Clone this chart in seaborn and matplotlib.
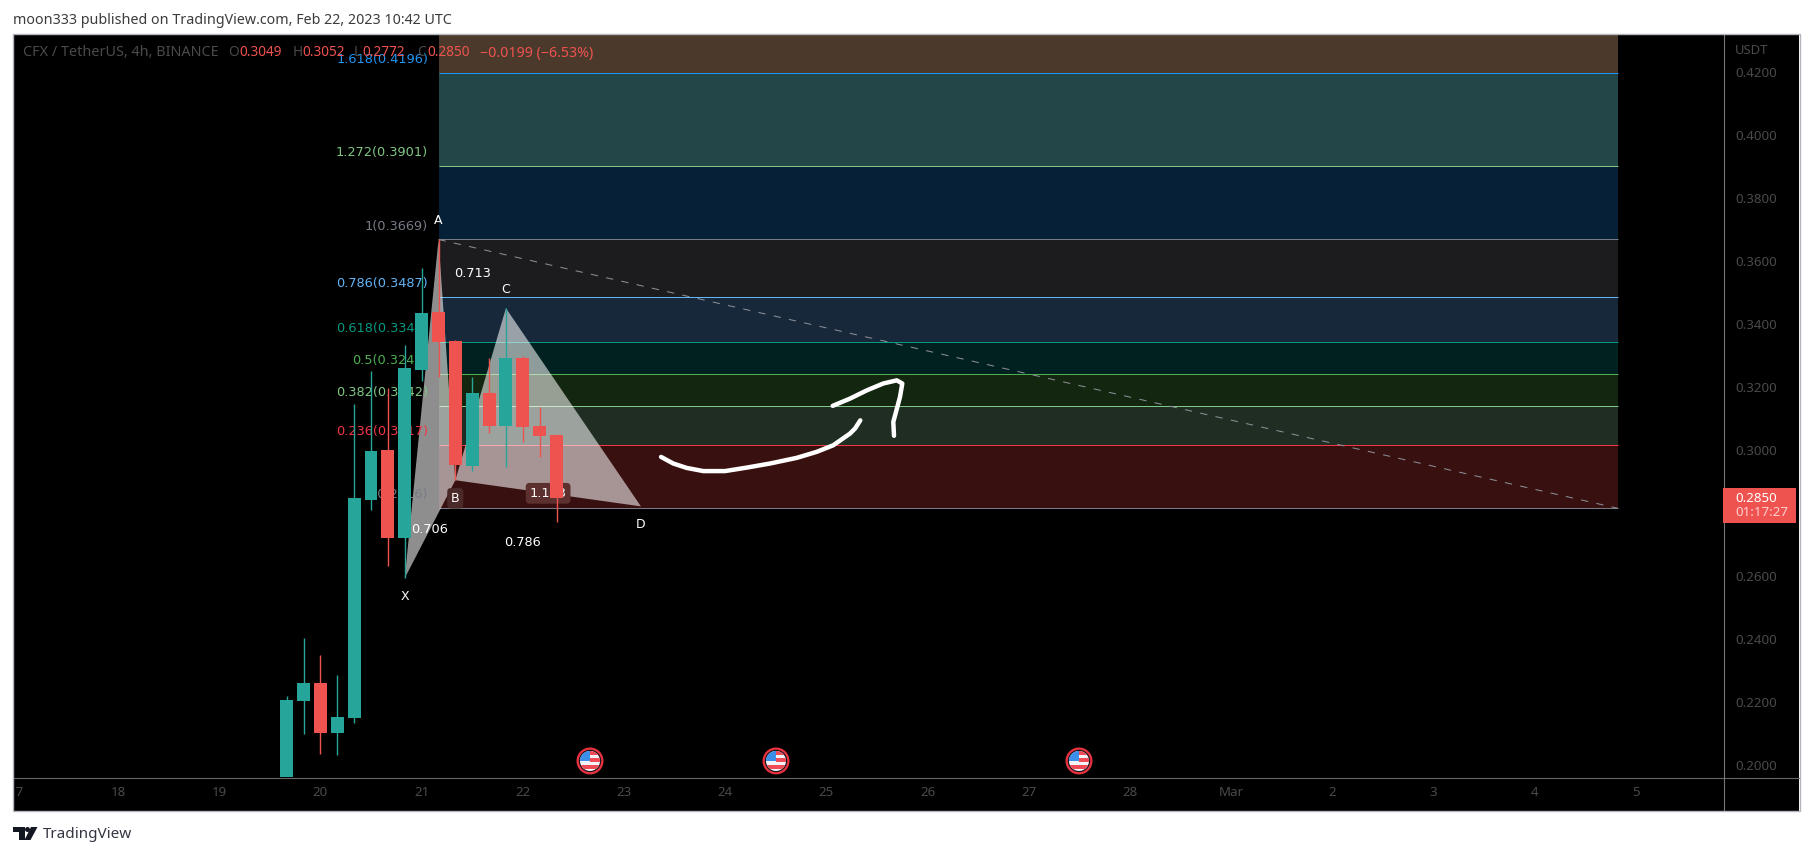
import numpy as np
import pandas as pd
import matplotlib
matplotlib.use("Agg")
import matplotlib.pyplot as plt
from matplotlib.patches import Rectangle, Circle, Polygon
from matplotlib.lines import Line2D
from matplotlib.transforms import IdentityTransform
import seaborn as sns

# ---------- data ----------
candle_days = [19.667, 19.833, 20.0, 20.167, 20.333, 20.5, 20.667, 20.833, 21.0,
               21.167, 21.333, 21.5, 21.667, 21.833, 22.0, 22.167, 22.333]
opens  = [0.1900, 0.2204, 0.2261, 0.2103, 0.2151, 0.2842, 0.3000, 0.2721, 0.3254,
          0.3438, 0.3346, 0.2950, 0.3181, 0.3076, 0.3292, 0.3076, 0.3049]
highs  = [0.2220, 0.2404, 0.2350, 0.2287, 0.3146, 0.3251, 0.3197, 0.3333, 0.3578,
          0.3669, 0.3349, 0.3232, 0.3292, 0.3451, 0.3298, 0.3137, 0.3052]
lows   = [0.1900, 0.2100, 0.2036, 0.2033, 0.2135, 0.2810, 0.2632, 0.2594, 0.3219,
          0.3232, 0.2905, 0.2934, 0.3054, 0.2946, 0.3026, 0.2978, 0.2772]
closes = [0.2207, 0.2261, 0.2103, 0.2153, 0.2848, 0.2997, 0.2721, 0.3260, 0.3435,
          0.3343, 0.2953, 0.3181, 0.3076, 0.3292, 0.3073, 0.3044, 0.2850]

fib_ratios = ["1.618", "1.272", "1", "0.786", "0.618", "0.5", "0.382", "0.236", "0"]
fib_prices = [0.4196, 0.3901, 0.3669, 0.3487, 0.3343, 0.3243, 0.3142, 0.3017, 0.2816]
fib_start, fib_end = 21.167, 32.82

pattern_names = ["X", "A", "B", "C", "D"]
pattern_days = [20.833, 21.167, 21.333, 21.833, 23.167]
pattern_prices = [0.2594, 0.3669, 0.2905, 0.3451, 0.2822]

stroke1_days = [23.366, 23.487, 23.620, 23.784, 23.998, 24.212, 24.443, 24.707, 24.904,
                25.068, 25.233, 25.283, 25.335]
stroke1_prices = [0.2979, 0.2958, 0.2944, 0.2934, 0.2934, 0.2945, 0.2958, 0.2976, 0.2995,
                  0.3016, 0.3053, 0.3069, 0.3095]
stroke2_days = [25.062, 25.233, 25.398, 25.562, 25.695, 25.750, 25.727, 25.688, 25.661, 25.668]
stroke2_prices = [0.3141, 0.3164, 0.3190, 0.3212, 0.3222, 0.3212, 0.3169, 0.3122, 0.3090, 0.3046]

event_days = [22.664, 24.502, 27.496]
event_price = 0.2014

day_ticks = [17, 18, 19, 20, 21, 22, 23, 24, 25, 26, 27, 28, 29, 30, 31, 32, 33]
day_labels = ["17", "18", "19", "20", "21", "22", "23", "24", "25", "26", "27", "28",
              "Mar", "2", "3", "4", "5"]
price_ticks = [0.20, 0.22, 0.24, 0.26, 0.30, 0.32, 0.34, 0.36, 0.38, 0.40, 0.42]

# ---------- style ----------
UP, DOWN = "#26a69a", "#ef5350"
FADED = "#4a4a4a"
UI_FONT = "Noto Sans"
band_colors = ["#4b3a2b", "#234748", "#062137", "#1c1c1e", "#17283a",
               "#002120", "#13260f", "#1f2d22", "#38100f"]
line_colors = ["#2196f3", "#81c784", "#787b86", "#64b5f6", "#089981",
               "#4caf50", "#81c784", "#f23645", "#787b86"]
W, H = 1813, 856

sns.set_theme(style="dark", rc={"axes.facecolor": "black", "figure.facecolor": "white"})
plt.rcParams["font.family"] = ["DejaVu Sans"]

fig = plt.figure(figsize=(W / 100, H / 100), dpi=100)
L, R, T, B = 14, 1723, 34.5, 777
ax = fig.add_axes([L / W, 1 - B / H, (R - L) / W, (B - T) / H])


def px_rect(x0, y0, x1, y1, **kw):
    r = Rectangle((x0 / W, 1 - y1 / H), (x1 - x0) / W, (y1 - y0) / H,
                  transform=fig.transFigure, **kw)
    fig.add_artist(r)
    return r


def px_text(x, y, s, **kw):
    kw.setdefault("va", "center")
    kw.setdefault("family", UI_FONT)
    return fig.text(x / W, 1 - y / H, s, **kw)


px_rect(13, 34, 1799, 811, facecolor="black", edgecolor="none", zorder=-5)

xlim = (16.972, 33.860)
ylim = (0.19631, 0.43196)

# Fibonacci bands and lines
tops = [ylim[1]] + fib_prices[:-1]
for top, bot, col in zip(tops, fib_prices, band_colors):
    ax.fill_between([fib_start, fib_end], bot, top, color=col, lw=0, zorder=1, antialiased=False)
for lc, price in zip(line_colors, fib_prices):
    ax.plot([fib_start, fib_end], [price, price], color=lc, lw=0.72, zorder=1.2,
            solid_capstyle="butt")

# Harmonic pattern triangles
xy = list(zip(pattern_days, pattern_prices))
for tri in (xy[:3], xy[2:5]):
    ax.add_patch(Polygon(tri, closed=True, facecolor="white", alpha=0.56, lw=0, zorder=2))

# Trend line
sns.lineplot(x=[fib_start, fib_end], y=[fib_prices[2], fib_prices[-1]], ax=ax, color="#8b8d96",
             lw=0.75, linestyle=(0, (7, 8)), estimator=None, sort=False, errorbar=None, zorder=2.2)

# Fib labels
for ratio, price, col in zip(fib_ratios, fib_prices, line_colors):
    ax.annotate(f"{ratio}({price:.4f})", (fib_start, price), xytext=(-7.5, 9.7),
                textcoords="offset points", ha="right", va="center", color=col,
                fontsize=9.3, zorder=2.4, annotation_clip=False)

# Point labels
name_off = {"X": -13.5, "A": 13.5, "B": -13, "C": 13.5, "D": -13}
pts = dict(zip(pattern_names, xy))
for n in pattern_names:
    kw = {}
    if n == "B":
        kw["bbox"] = dict(boxstyle="round,pad=0.3,rounding_size=0.3", fc="#4a2a28", ec="none")
    ax.annotate(n, pts[n], xytext=(0, name_off[n]), textcoords="offset points", ha="center",
                va="center", color="white", fontsize=9, zorder=2.5, **kw)

# Ratio labels sit at the middle of the leg they describe
for a, b, s in (("A", "C", "0.713"), ("X", "B", "0.706"), ("X", "D", "0.786"), ("B", "D", "1.113")):
    mid = ((pts[a][0] + pts[b][0]) / 2, (pts[a][1] + pts[b][1]) / 2)
    kw = {}
    if s == "1.113":
        kw["bbox"] = dict(boxstyle="round,pad=0.3,rounding_size=0.3", fc="#5c302e", ec="none")
    ax.annotate(s, mid, ha="center", va="center", color="white", fontsize=9.3,
                fontweight="medium", zorder=2.6, **kw)

# Candles
df = pd.DataFrame({"day": candle_days, "open": opens, "high": highs, "low": lows, "close": closes})
df["bottom"] = df[["open", "close"]].min(axis=1)
df["height"] = (df["close"] - df["open"]).abs()
df["up"] = df["close"] >= df["open"]
for is_up, col in ((True, UP), (False, DOWN)):
    sub = df[df["up"] == is_up]
    ax.vlines(sub["day"], sub["low"], sub["high"], color=col, lw=1.0, zorder=3)
    sns.barplot(x=sub["day"].to_numpy(), y=sub["height"].to_numpy(), bottom=sub["bottom"].to_numpy(),
                native_scale=True, ax=ax, color=col, saturation=1, width=0.77, errorbar=None,
                linewidth=0, zorder=3.2)

# Hand-drawn strokes
for xs, ys in ((stroke1_days, stroke1_prices), (stroke2_days, stroke2_prices)):
    sns.lineplot(x=xs, y=ys, ax=ax, color="white", lw=3.2, estimator=None, sort=False, errorbar=None,
                 solid_capstyle="round", solid_joinstyle="round", zorder=4)

ax.set_xlim(*xlim)
ax.set_ylim(*ylim)
ax.set_xlabel("")
ax.set_ylabel("")
ax.grid(False)
for s in ax.spines.values():
    s.set_visible(False)
ax.set_xticks(day_ticks)
ax.set_xticklabels(day_labels, family=UI_FONT)
ax.yaxis.tick_right()
ax.set_yticks(price_ticks)
ax.set_yticklabels([f"{p:.4f}" for p in price_ticks], family=UI_FONT)
ax.tick_params(axis="x", length=0, pad=6.5, colors=FADED, labelsize=9.6)
ax.tick_params(axis="y", length=0, pad=8.6, colors=FADED, labelsize=9.6)

# Event flags, drawn in pixels around each data anchor
for d in event_days:
    cx, cy = ax.transData.transform((d, event_price))
    tr = IdentityTransform()
    ax.add_patch(Circle((cx, cy), 13.5, transform=tr, fc="#e8323f", ec="none", zorder=5))
    ax.add_patch(Circle((cx, cy), 11.2, transform=tr, fc="#15151d", ec="none", zorder=5.1))
    disk = Circle((cx, cy), 10, transform=tr, fc="#f4f4f8", ec="none", zorder=5.2)
    ax.add_patch(disk)
    for y0, y1, x0, c in ((5.5, 10, 0, "#ef4a55"), (-1, 2.5, 0, "#ef4a55"), (-8, -4.5, -10, "#ef4a55"),
                          (0, 10, -10, "#3c8fe8")):
        rr = Rectangle((cx + x0, cy + y0), 10 - x0, y1 - y0, transform=tr, fc=c, ec="none",
                       zorder=5.4 if c == "#3c8fe8" else 5.3)
        if c == "#3c8fe8":
            rr = Rectangle((cx - 10, cy), 10, 10, transform=tr, fc=c, ec="none", zorder=5.4)
        ax.add_patch(rr)
        rr.set_clip_path(disk)

# Frame pieces
mask_kw = dict(facecolor="white", edgecolor="none", zorder=10)
px_rect(0, 770, 13, 815, **mask_kw)
px_rect(13, 34, 1799.5, 811, facecolor="none", edgecolor="#b4b6bd", lw=1, zorder=11)
fig.add_artist(Line2D([14 / W, 1799 / W], [1 - 777.5 / H] * 2, color="#666666", lw=0.8, zorder=9))
fig.add_artist(Line2D([1723.5 / W] * 2, [1 - 34 / H, 1 - 811 / H], color="#777777", lw=0.8, zorder=9))

# Price tag
px_rect(1723, 488, 1796, 523, facecolor=DOWN, edgecolor="none", zorder=9.5)
px_text(1735, 498, f"{closes[-1]:.4f}", color="white", fontsize=9.6, zorder=12)
px_text(1735, 513, "01:17:27", color="#ffd0d0", fontsize=9.6, zorder=12)
px_text(1735, 50, "USDT", color=FADED, fontsize=9.4, zorder=12)

# Header
px_text(13, 20, "moon333 published on TradingView.com, Feb 22, 2023 10:42 UTC", color="#3c3c3c",
        fontsize=10.25, zorder=12)
px_text(23, 53, "CFX / TetherUS, 4h, BINANCE", color=FADED, fontsize=10.4, zorder=12)
for x, s, c in ((228.5, "O", FADED), (239, f"{opens[-1]:.4f}", DOWN), (293, "H", FADED),
                (302, f"{highs[-1]:.4f}", DOWN), (354, "L", FADED), (362, f"{lows[-1]:.4f}", DOWN),
                (417, "C", FADED), (427, f"{closes[-1]:.4f}", DOWN)):
    px_text(x, 53, s, color=c, fontsize=9.8, zorder=12)
px_text(480, 53, "\u22120.0199 (\u22126.53%)", color=DOWN, fontsize=10.2, zorder=12)

# Footer logo and wordmark
LOGO = "#131722"
px_rect(13, 827, 25, 832, facecolor=LOGO, edgecolor="none", zorder=12)
px_rect(19, 827, 25, 840, facecolor=LOGO, edgecolor="none", zorder=12)
fig.add_artist(Circle((27.5, H - 829.5), 2.5, transform=IdentityTransform(), fc=LOGO, ec="none", zorder=12))
fig.add_artist(Polygon([(31, H - 827), (37.5, H - 827), (30.5, H - 840), (24.5, H - 840)],
                       closed=True, transform=IdentityTransform(), fc=LOGO, ec="none", zorder=12))
px_text(43, 835, "TradingView", color="#333740", fontsize=11, zorder=12)

fig.savefig("out.png", dpi=100, facecolor="white")
